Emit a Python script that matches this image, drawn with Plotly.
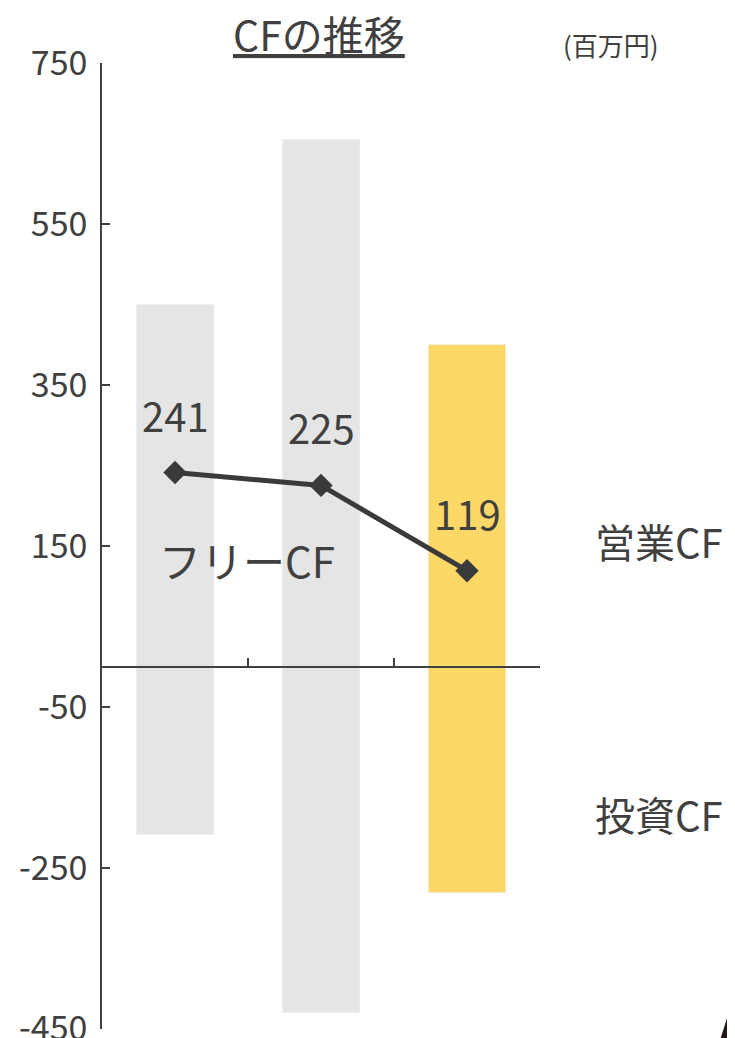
import plotly.graph_objects as go

periods = ["1期", "2期", "3期"]
operating_cf = [450, 655, 400]
investing_cf = [-209, -430, -281]
free_cf = [241, 225, 119]
bar_colors = ["#e5e5e5", "#e5e5e5", "#fdd866"]
y_ticks = [750, 550, 350, 150, -50, -250, -450]

FONT = "Noto Sans CJK JP, Noto Sans, sans-serif"
TEXT = "#404040"
x = list(range(len(periods)))

fig = go.Figure()

fig.add_trace(
    go.Bar(x=x, y=operating_cf, marker_color=bar_colors, width=0.53, name="営業CF")
)
fig.add_trace(
    go.Bar(x=x, y=investing_cf, marker_color=bar_colors, width=0.53, name="投資CF")
)
fig.add_trace(
    go.Scatter(
        x=x,
        y=free_cf,
        mode="lines+markers",
        line=dict(color="#3a3a3a", width=5),
        marker=dict(symbol="diamond", size=18, color="#3a3a3a"),
        name="フリーCF",
    )
)

# data labels above the free CF points
for xi, v in zip(x, free_cf):
    fig.add_annotation(
        x=xi, y=v, text=str(v), showarrow=False, yshift=58,
        font=dict(size=40, color=TEXT, family=FONT),
    )

fig.add_annotation(
    x=0.49, y=133, text="フリーCF", showarrow=False,
    font=dict(size=42, color=TEXT, family=FONT),
)
fig.add_annotation(
    xref="paper", x=1.12, y=156, text="営業CF", showarrow=False, xanchor="left",
    font=dict(size=40, color=TEXT, family=FONT),
)
fig.add_annotation(
    xref="paper", x=1.12, y=-184, text="投資CF", showarrow=False, xanchor="left",
    font=dict(size=40, color=TEXT, family=FONT),
)
fig.add_annotation(
    xref="paper", yref="paper", x=0.495, y=1.031, text="<u>CFの推移</u>",
    showarrow=False, xanchor="center", yanchor="middle",
    font=dict(size=41, color=TEXT, family=FONT),
)
fig.add_annotation(
    xref="paper", yref="paper", x=1.162, y=1.019, text="(百万円)",
    showarrow=False, xanchor="center", yanchor="middle",
    font=dict(size=26, color=TEXT, family=FONT),
)
fig.add_annotation(
    xref="paper", yref="paper", x=1.405, y=-0.035, text="<b>A</b>",
    showarrow=False, xanchor="left", yanchor="bottom",
    font=dict(size=70, color="#231815", family=FONT),
)

# the page body adds an 8px offset, so margins are reduced by that amount
fig.update_layout(
    width=735,
    height=1038,
    barmode="relative",
    showlegend=False,
    plot_bgcolor="white",
    paper_bgcolor="white",
    margin=dict(l=94, r=203, t=55, b=17),
    font=dict(family=FONT, color=TEXT),
    xaxis=dict(
        range=[-0.5, 2.5],
        anchor="free",
        position=0.375,
        automargin=False,
        showline=True,
        linecolor="#404040",
        linewidth=1.5,
        ticks="inside",
        ticklen=8,
        tickwidth=1.5,
        tickcolor="#404040",
        tickvals=[0.5, 1.5, 2.5],
        showticklabels=False,
        showgrid=False,
        zeroline=False,
    ),
    yaxis=dict(
        range=[-450.6, 750],
        tickvals=y_ticks,
        ticktext=[str(t) for t in y_ticks],
        automargin=False,
        ticklabeloverflow="allow",
        showline=True,
        linecolor="#404040",
        linewidth=1.5,
        ticks="inside",
        ticklen=8,
        tickwidth=1.5,
        tickcolor="#404040",
        ticklabelstandoff=6,
        showgrid=False,
        zeroline=False,
        tickfont=dict(size=34, color=TEXT, family=FONT),
    ),
)

fig.write_html("out.html")
